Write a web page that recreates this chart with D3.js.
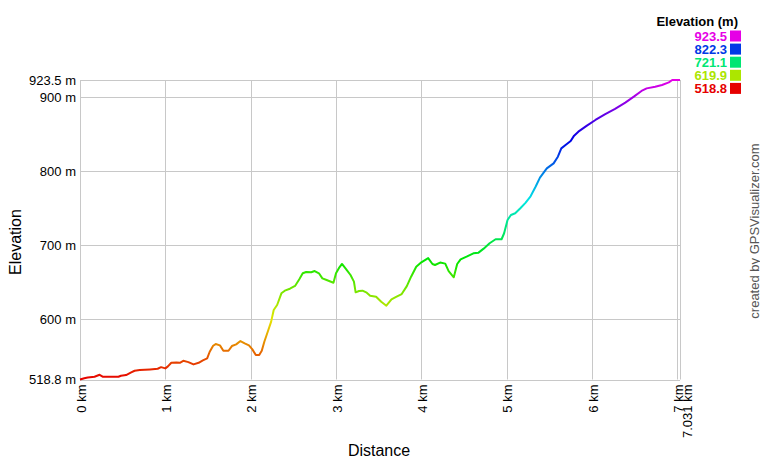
<!DOCTYPE html>
<html>
<head>
<meta charset="utf-8">
<script src="https://cdn.jsdelivr.net/npm/d3@7/dist/d3.min.js"></script>
<style>
  body { margin: 0; background: #fff; }
  svg text { font-family: Arial, "Liberation Sans", sans-serif; }
</style>
</head>
<body>
<div id="chart"></div>
<script>
// distance (km) and elevation (m)
var distKm = [0.00,0.05,0.09,0.17,0.23,0.27,0.45,0.48,0.54,0.60,0.64,0.70,0.82,0.91,0.95,1.00,1.03,1.07,1.13,1.17,
  1.21,1.27,1.33,1.39,1.44,1.49,1.52,1.56,1.59,1.64,1.68,1.74,1.78,1.83,1.88,1.93,1.98,2.02,2.06,2.10,
  2.13,2.16,2.20,2.24,2.27,2.31,2.36,2.40,2.46,2.52,2.57,2.61,2.65,2.71,2.75,2.80,2.84,2.89,2.97,3.00,
  3.04,3.07,3.12,3.17,3.21,3.23,3.27,3.31,3.36,3.40,3.47,3.53,3.59,3.65,3.71,3.77,3.83,3.88,3.94,4.00,
  4.08,4.13,4.16,4.22,4.28,4.32,4.38,4.42,4.46,4.53,4.61,4.67,4.73,4.80,4.87,4.94,4.97,5.01,5.05,5.10,
  5.16,5.22,5.28,5.34,5.39,5.47,5.55,5.60,5.64,5.69,5.75,5.79,5.84,5.94,6.04,6.15,6.27,6.39,6.49,6.58,
  6.64,6.74,6.82,6.90,6.94,7.031];
var elevM = [518.8,520.5,521.6,522.5,525.2,522.5,522.5,523.9,524.8,528.4,530.6,531.5,532.4,533.3,535.5,533.8,536.5,541.4,541.9,541.4,
  544.1,542.3,539.2,541.4,544.6,547.3,556.3,564.4,566.7,564.9,557.6,557.6,564.0,566.3,570.8,567.6,564.9,559.5,551.9,552.0,
  557.6,569.8,583.3,597.0,612.7,619.5,635.3,638.8,641.5,645.2,654.2,662.3,664.1,663.7,665.4,662.3,655.5,653.3,649.6,662.3,
  670.4,674.9,667.7,660.0,651.0,636.6,638.4,638.8,636.1,632.0,630.7,623.9,618.5,627.2,630.7,634.3,645.0,657.7,671.2,677.2,
  682.8,674.9,673.5,676.8,675.4,665.2,656.9,674.9,681.2,684.8,689.3,690.2,695.6,702.9,708.3,708.3,716.4,734.4,741.1,743.4,
  750.2,757.5,766.4,779.6,791.5,804.1,810.8,819.9,831.1,835.7,841.1,848.3,853.7,861.8,869.5,877.1,884.4,892.9,901.0,908.7,
  912.2,914.5,916.8,920.3,923.5,923.5];

var xTicks = [0, 1, 2, 3, 4, 5, 6, 7, 7.031];
var yTicks = [518.8, 600, 700, 800, 900, 923.5];
var legendVals = [923.5, 822.3, 721.1, 619.9, 518.8];

var svgWidth = 760;
var svgHeight = 460;
var margin = { left: 80, right: 80, top: 80, bottom: 80.5 };
var width = svgWidth - margin.left - margin.right;
var height = svgHeight - margin.top - margin.bottom;

var svg = d3.select("#chart")
  .append("svg")
  .attr("width", svgWidth)
  .attr("height", svgHeight);

var chartGroup = svg.append("g")
  .attr("transform", `translate(${margin.left}, ${margin.top})`);

var xScale = d3.scaleLinear().domain([0, 7.031]).range([0, width]);
var yScale = d3.scaleLinear().domain([518.8, 923.5]).range([height, 0]);

// hue runs red -> magenta with elevation
var hueScale = d3.scaleLinear().domain([518.8, 923.5]).range([0, 300]);
function elevColor(v) { return d3.hsl(hueScale(v), 1, 0.45).formatHex(); }

// grid
chartGroup.append("g").selectAll("line.v").data(xTicks).enter()
  .append("line")
  .attr("x1", d => Math.round(xScale(d)) + 0.5)
  .attr("x2", d => Math.round(xScale(d)) + 0.5)
  .attr("y1", 0).attr("y2", height)
  .attr("stroke", "#c8c8c8");

chartGroup.append("g").selectAll("line.h").data(yTicks).enter()
  .append("line")
  .attr("y1", d => Math.round(yScale(d)) + 0.5)
  .attr("y2", d => Math.round(yScale(d)) + 0.5)
  .attr("x1", 0).attr("x2", width)
  .attr("stroke", "#c8c8c8");

// axes (labels only)
var yAxis = d3.axisLeft(yScale).tickValues(yTicks).tickSize(0).tickPadding(4)
  .tickFormat(d => d + " m");
chartGroup.append("g").call(yAxis)
  .call(g => g.select(".domain").remove())
  .selectAll("text")
  .attr("font-size", "13px")
  .attr("fill", "#000")
  .attr("font-family", "Arial, 'Liberation Sans', sans-serif");

// last label is pushed right so it doesn't collide with "7 km"
var xShift = [5, 5, 5, 5, 5, 5, 5, 5, 11.5];
var xAxis = d3.axisBottom(xScale).tickValues(xTicks).tickSize(0)
  .tickFormat(d => d + " km");
chartGroup.append("g").call(xAxis)
  .attr("transform", `translate(0, ${height})`)
  .call(g => g.select(".domain").remove())
  .selectAll("text")
  .attr("font-size", "13px")
  .attr("fill", "#000")
  .attr("font-family", "Arial, 'Liberation Sans', sans-serif")
  .attr("text-anchor", "end")
  .attr("dy", null)
  .attr("y", 0)
  .attr("transform", (d, i) => `translate(${xShift[i]}, 5) rotate(-90)`);

// gradient for profile
var defs = svg.append("defs");
var grad = defs.append("linearGradient")
  .attr("id", "elevGrad")
  .attr("gradientUnits", "userSpaceOnUse")
  .attr("x1", 0).attr("x2", 0)
  .attr("y1", yScale(518.8)).attr("y2", yScale(923.5));
d3.range(0, 1.0001, 0.05).forEach(function(t) {
  grad.append("stop")
    .attr("offset", t)
    .attr("stop-color", elevColor(518.8 + t * (923.5 - 518.8)));
});

var profile = distKm.map((d, i) => ({ km: d, m: elevM[i] }));
var line = d3.line().x(d => xScale(d.km)).y(d => yScale(d.m));

chartGroup.append("path")
  .datum(profile)
  .attr("d", line)
  .attr("fill", "none")
  .attr("stroke", "url(#elevGrad)")
  .attr("stroke-width", 2)
  .attr("stroke-linejoin", "round");

// axis titles
svg.append("text")
  .attr("x", 379).attr("y", 456)
  .attr("text-anchor", "middle")
  .attr("font-size", "16px")
  .text("Distance");

svg.append("text")
  .attr("transform", "translate(21, 242) rotate(-90)")
  .attr("text-anchor", "middle")
  .attr("font-size", "16px")
  .text("Elevation");

svg.append("text")
  .attr("transform", "translate(758.5, 231) rotate(-90)")
  .attr("text-anchor", "middle")
  .attr("font-size", "13px")
  .attr("fill", "#555")
  .text("created by GPSVisualizer.com");

// legend
svg.append("text")
  .attr("x", 738).attr("y", 26)
  .attr("text-anchor", "end")
  .attr("font-size", "13px")
  .attr("font-weight", "bold")
  .text("Elevation (m)");

var leg = svg.append("g").selectAll("g").data(legendVals).enter()
  .append("g")
  .attr("transform", (d, i) => `translate(0, ${36 + i * 13.1})`);
leg.append("text")
  .attr("x", 727).attr("y", 4.5)
  .attr("text-anchor", "end")
  .attr("font-size", "13px")
  .attr("font-weight", "bold")
  .attr("fill", d => elevColor(d))
  .text(d => d.toFixed(1));
leg.append("rect")
  .attr("x", 730).attr("y", -5.5)
  .attr("width", 11).attr("height", 11)
  .attr("fill", d => elevColor(d));
</script>
</body>
</html>
